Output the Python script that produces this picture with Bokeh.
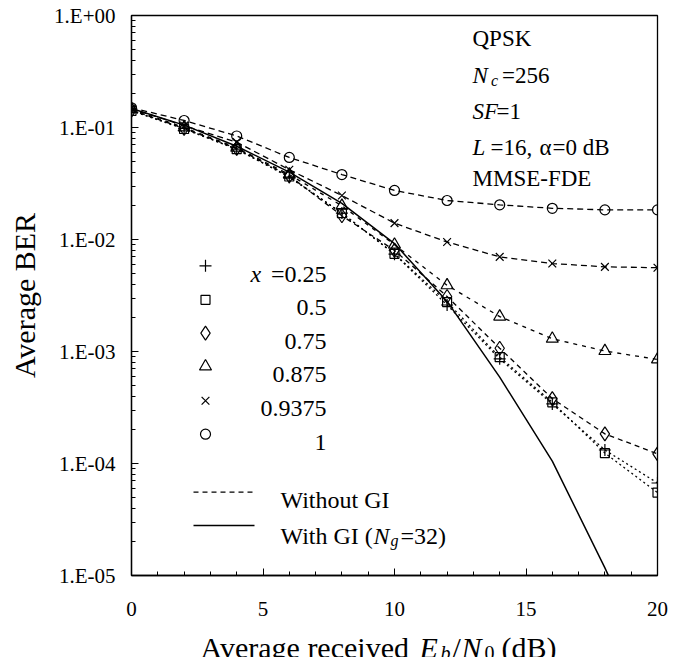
from bokeh.plotting import figure
from bokeh.models import Label, FixedTicker, SingleIntervalTicker, Range1d
from bokeh.layouts import column
from bokeh.embed import file_html
from bokeh.resources import INLINE

# ---------------- data ----------------
ebn0 = [0, 2, 4, 6, 8, 10, 12, 14, 16, 18, 20]
ber_x025 = [0.142, 0.098, 0.064, 0.036, 0.0172, 0.0074, 0.0026, 0.00086, 0.00034, 0.000132, 0.000067]
ber_x05 = [0.141, 0.097, 0.064, 0.0365, 0.0172, 0.00745, 0.00276, 0.00089, 0.000352, 0.000124, 0.000055]
ber_x075 = [0.143, 0.098, 0.065, 0.037, 0.0163, 0.0080, 0.0031, 0.00107, 0.00038, 0.000184, 0.000122]
ber_x0875 = [0.146, 0.100, 0.066, 0.038, 0.020, 0.0090, 0.0039, 0.00205, 0.0013, 0.00101, 0.00085]
ber_x09375 = [0.147, 0.104, 0.074, 0.042, 0.0247, 0.0140, 0.0095, 0.0070, 0.0061, 0.0057, 0.0056]
ber_x1 = [0.150, 0.1155, 0.084, 0.054, 0.038, 0.0274, 0.0223, 0.0204, 0.0190, 0.0184, 0.0184]
ber_with_gi = [0.148, 0.105, 0.068, 0.040, 0.021, 0.0092, 0.0028, 0.00059, 0.000105, 0.0000117, 0.0000011]

series_labels = ["0.25", "0.5", "0.75", "0.875", "0.9375", "1"]
ytick_values = [1e-5, 1e-4, 1e-3, 1e-2, 1e-1, 1.0]
ytick_labels = ["1.E-05", "1.E-04", "1.E-03", "1.E-02", "1.E-01", "1.E+00"]

FONT = "Liberation Serif"

# ---------------- geometry (page px of frame) ----------------
FL, FR, FT, FB = 131.0, 657.0, 15.0, 575.0
XMIN, XMAX = 0.0, 20.0
DECADES = 5.0
X_STANDOFF = 26
MAIN_BOTTOM = 50
PAGE_H = 666
W = 684
FW, FH = int(FR - FL), int(FB - FT)


def dx(px):
    return XMIN + (px - FL) / (FR - FL) * (XMAX - XMIN)


def dy(py):
    return 10 ** (-(py - FT) / ((FB - FT) / DECADES))


p = figure(title=None, frame_width=FW, frame_height=FH,
           min_border_left=int(FL), min_border_right=W - int(FL) - FW, min_border_top=int(FT),
           min_border_bottom=MAIN_BOTTOM,
           x_range=(XMIN, XMAX), y_range=(1e-5, 1.0), y_axis_type="log",
           output_backend="svg", toolbar_location=None)
p.background_fill_color = "white"
p.border_fill_color = "white"
p.outline_line_color = "black"
p.outline_line_width = 1.3
p.xgrid.visible = False
p.ygrid.visible = False

# axes
p.xaxis.ticker = SingleIntervalTicker(interval=5, num_minor_ticks=5)
minor = [m * 10.0 ** k for k in range(-5, 0) for m in range(2, 10)]
p.yaxis.ticker = FixedTicker(ticks=ytick_values, minor_ticks=minor)
p.yaxis.major_label_overrides = {v: l for v, l in zip(ytick_values, ytick_labels)}
for ax in (p.xaxis[0], p.yaxis[0]):
    ax.axis_line_width = 1.3
    ax.axis_line_color = "black"
    ax.major_tick_in = 7
    ax.major_tick_out = 0
    ax.minor_tick_in = 4
    ax.minor_tick_out = 0
    ax.major_tick_line_color = "black"
    ax.minor_tick_line_color = "black"
    ax.major_label_text_font = FONT
    ax.major_label_text_font_size = "21px"
    ax.major_label_text_color = "black"
p.yaxis.major_label_standoff = 16
p.xaxis.major_label_standoff = X_STANDOFF
p.yaxis.axis_label = "Average BER"
p.yaxis.axis_label_text_font = FONT
p.yaxis.axis_label_text_font_size = "30px"
p.yaxis.axis_label_text_font_style = "normal"
p.yaxis.axis_label_text_color = "black"
p.yaxis.axis_label_standoff = 10

# ---------------- series ----------------
series = [
    (ber_x025, "cross", 12, "2 3"),
    (ber_x05, "square", 9, "2 3"),
    (ber_x075, "diamond", 14, "5 4"),
    (ber_x0875, "triangle", 12, "4 5"),
    (ber_x09375, "x", 11, "6 4"),
    (ber_x1, "circle", 10, "6 4"),
]
for vals, mk, sz, dash in series:
    p.line(ebn0, vals, line_color="black", line_width=1.3, line_dash=dash)
p.line(ebn0, ber_with_gi, line_color="black", line_width=1.5)
for vals, mk, sz, dash in series:
    p.scatter(ebn0, vals, marker=mk, size=sz, line_color="black", line_width=1.2,
              fill_color=None)


def lab(text, px, py, size="23px", style="normal", align="left"):
    p.add_layout(Label(x=dx(px), y=dy(py), text=text, text_font=FONT,
                       text_font_size=size, text_font_style=style, text_color="black",
                       text_align=align, text_baseline="alphabetic"))


# ---------------- legend ----------------
LS = "24px"
row_base = [273.3, 307.3, 340.7, 374.0, 408.3, 441.7]
for (vals, mk, sz, dash), lbl, yb in zip(series, series_labels, row_base):
    p.scatter([dx(205)], [dy(yb - 8)], marker=mk, size=sz, line_color="black",
              line_width=1.2, fill_color=None)
    if lbl == series_labels[0]:
        lab("=" + lbl, 326, yb, size=LS, align="right")
        lab("x", 250, yb, size=LS, style="italic")
    else:
        lab(lbl, 326, yb, size=LS, align="right")

p.line([dx(193), dx(254)], [dy(491.7), dy(491.7)], line_color="black", line_width=1.3, line_dash="5 4")
lab("Without GI", 280, 499.3, size=LS)
p.line([dx(193), dx(254)], [dy(525.0), dy(525.0)], line_color="black", line_width=1.5)
lab("With GI (", 280, 535, size=LS)
lab("N", 373, 535, size=LS, style="italic")
lab("g", 390, 540, size="16px", style="italic")
lab("=32)", 400, 535, size=LS)

# ---------------- info text ----------------
lab("QPSK", 472, 38.3)
lab("N", 472, 75, style="italic")
lab("c", 490.5, 80, size="16px", style="italic")
lab("=256", 501.5, 75)
lab("SF", 472, 110.7, style="italic")
lab("=1", 496, 110.7)
lab("L", 472, 146.7, style="italic")
lab("=16,", 490, 146.7)
lab("\u03b1", 539, 146.7)
lab("=0 dB", 552, 146.7)
lab("MMSE-FDE", 472, 178.3)

# ---------------- x axis title (separate strip below the chart, same frame columns) ----------------
TOP2 = int(FT) + FH + MAIN_BOTTOM
H2 = PAGE_H - TOP2 - 9
p2 = figure(title=None, frame_width=FW, frame_height=H2,
            min_border_left=int(FL), min_border_right=W - int(FL) - FW,
            min_border_top=0, min_border_bottom=0,
            x_range=Range1d(FL, FR), y_range=Range1d(H2, 0),
            x_axis_location=None, y_axis_location=None,
            output_backend="svg", toolbar_location=None)
p2.outline_line_color = None
p2.background_fill_color = "white"
p2.border_fill_color = "white"
p2.xgrid.visible = False
p2.ygrid.visible = False


def lab2(text, px, y_from_top, size="30px", style="normal"):
    p2.add_layout(Label(x=px, y=y_from_top, text=text, text_font=FONT,
                        text_font_size=size, text_font_style=style, text_color="black",
                        text_align="left", text_baseline="alphabetic"))


TS = "30px"
SS = "20px"
BY = 22
lab2("Average received", 200, BY, TS)
lab2("E", 419, BY, TS, "italic")
lab2("b", 440, BY + 5, SS, "italic")
lab2("/", 452, BY, TS)
lab2("N", 461, BY, TS, "italic")
lab2("0", 484, BY + 5, SS)
lab2("(dB)", 501, BY, TS)

layout = column(p, p2, spacing=0)
open("out.html", "w").write(file_html(layout, INLINE))
